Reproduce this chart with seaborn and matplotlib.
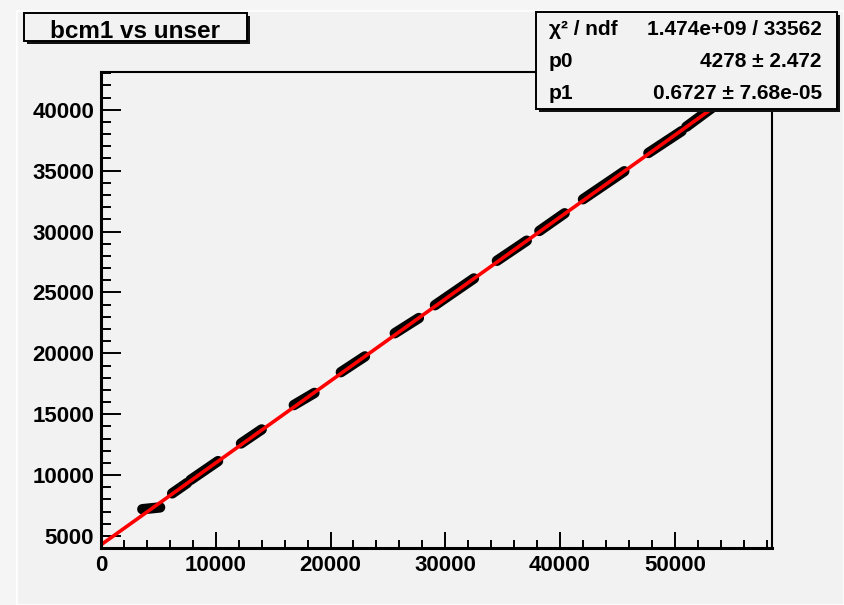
import numpy as np
import pandas as pd
import matplotlib
matplotlib.use("Agg")
import matplotlib.pyplot as plt
from matplotlib.patches import Rectangle
from matplotlib.ticker import MultipleLocator, FormatStrFormatter
import seaborn as sns

# Beam-current steps: each run is a band of unser readings vs bcm1 readings
run_ids = ["A", "B", "C", "D", "E", "F", "G", "H", "I", "J", "K", "L", "M"]
unser_start = [3600, 6200, 7800, 12200, 16800, 20900, 25600, 29100, 34500, 38200, 42000, 47700, 51000]
unser_end = [5150, 7500, 10200, 14000, 18600, 23000, 27700, 32500, 37100, 40400, 45600, 50600, 53300]
bcm1_start = [7200, 8500, 9600, 12600, 15750, 18450, 21650, 23950, 27600, 30050, 32650, 36450, 38600]
bcm1_end = [7350, 9350, 11150, 13750, 16750, 19750, 22900, 26150, 29250, 31500, 34950, 38250, 40200]

# Linear fit result (pol1)
p0, p0_err = 4278, 2.472
p1, p1_err = 0.6727, 7.68e-05
chi2_text = "1.474e+09 / 33562"
fit_range = [0, 53300]

title_text = "bcm1 vs unser"

W, H, DPI = 844, 605, 100
sns.set_theme(style="ticks")
plt.rcParams["font.family"] = ["Liberation Sans", "DejaVu Sans"]
plt.rcParams["font.weight"] = "bold"
plt.rcParams["text.color"] = "black"
plt.rcParams["xtick.color"] = "black"
plt.rcParams["ytick.color"] = "black"

fig = plt.figure(figsize=(W / DPI, H / DPI), dpi=DPI, facecolor="#f5f5f5")

# canvas pad
bg = fig.add_axes([0, 0, 1, 1], zorder=-5)
bg.set_xlim(0, W)
bg.set_ylim(H, 0)
bg.axis("off")
bg.add_patch(Rectangle((17, 11), W - 17, H - 11, facecolor="#f2f2f2", edgecolor="white", lw=1.2))

ax = fig.add_axes([101 / W, 1 - 548 / H, (772 - 101) / W, (548 - 72) / H])
ax.set_facecolor("#f2f2f2")

runs = pd.DataFrame({
    "run": np.repeat(run_ids, 2),
    "unser": np.ravel(np.column_stack([unser_start, unser_end])),
    "bcm1": np.ravel(np.column_stack([bcm1_start, bcm1_end])),
})
sns.lineplot(data=runs, x="unser", y="bcm1", units="run", estimator=None,
             sort=False, color="black", lw=7.5, legend=False, ax=ax,
             solid_capstyle="round")

fit_x = np.array(fit_range, dtype=float)
fit = pd.DataFrame({"unser": fit_x, "bcm1": p0 + p1 * fit_x})
sns.lineplot(data=fit, x="unser", y="bcm1", color="#ff0000", lw=2.6, ax=ax)

ax.set_xlim(0, 58470)
ax.set_ylim(4016, 43100)
ax.set_xlabel("")
ax.set_ylabel("")

ax.xaxis.set_major_locator(MultipleLocator(10000))
ax.xaxis.set_minor_locator(MultipleLocator(2000))
ax.yaxis.set_major_locator(MultipleLocator(5000))
ax.yaxis.set_minor_locator(MultipleLocator(1000))
ax.xaxis.set_major_formatter(FormatStrFormatter("%d"))
ax.yaxis.set_major_formatter(FormatStrFormatter("%d"))

ax.tick_params(axis="x", which="major", direction="in", length=11.5, width=1.4,
               labelsize=16, pad=5, colors="black", top=False)
ax.tick_params(axis="x", which="minor", direction="in", length=5.8, width=1.4, top=False)
ax.tick_params(axis="y", which="major", direction="in", length=14.4, width=1.4,
               labelsize=16, pad=5, colors="black", right=False)
ax.tick_params(axis="y", which="minor", direction="in", length=7.2, width=1.4, right=False)
for lab in ax.get_xticklabels() + ax.get_yticklabels():
    lab.set_fontweight("bold")

for side in ["left", "bottom"]:
    ax.spines[side].set_linewidth(2.2)
    ax.spines[side].set_color("black")
for side in ["top", "right"]:
    ax.spines[side].set_visible(True)
    ax.spines[side].set_linewidth(1.5)
    ax.spines[side].set_color("black")

# overlay for title and fit-statistics boxes (pixel coordinates)
ov = fig.add_axes([0, 0, 1, 1], zorder=10)
ov.set_xlim(0, W)
ov.set_ylim(H, 0)
ov.axis("off")
ov.patch.set_alpha(0)


def shadow_box(x0, y0, x1, y1):
    ov.add_patch(Rectangle((x0 + 3, y0 + 3), x1 - x0, y1 - y0, facecolor="#111111", edgecolor="none"))
    ov.add_patch(Rectangle((x0, y0), x1 - x0, y1 - y0, facecolor="#f2f2f2", edgecolor="black", lw=1.4))


shadow_box(24, 13, 247, 41)
ov.text(135.5, 38, title_text, ha="center", va="baseline", fontsize=17.5,
        fontweight="bold", color="black")

shadow_box(536, 12, 837, 109)
rows = [
    ("\u03c7\u00b2 / ndf", chi2_text, 35),
    ("p0", f"{p0} \u00b1 {p0_err}", 67),
    ("p1", f"{p1} \u00b1 {p1_err:.2e}", 99),
]
for name, val, yb in rows:
    ov.text(549, yb, name, ha="left", va="baseline", fontsize=15, fontweight="bold", color="black")
    ov.text(822, yb, val, ha="right", va="baseline", fontsize=15, fontweight="bold", color="black")

fig.savefig("out.png", dpi=DPI, facecolor=fig.get_facecolor())
